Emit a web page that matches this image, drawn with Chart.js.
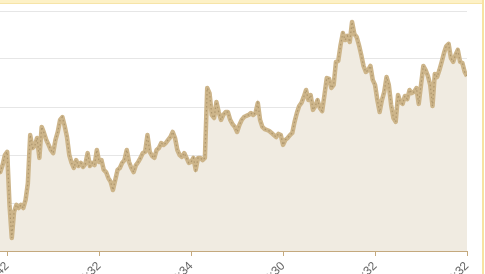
<!DOCTYPE html>
<html>
<head>
<meta charset="utf-8">
<script src="https://cdn.jsdelivr.net/npm/chart.js@4.4.1/dist/chart.umd.min.js"></script>
<style>
  html, body { margin: 0; padding: 0; width: 485px; height: 274px; overflow: hidden; background: #fff; position: relative; }
  #topbar { position: absolute; left: 0; top: 0; width: 483px; height: 3px; background: #fdf1c6; border-bottom: 1px solid #f6e4a8; z-index: 2; }
  #rightbar { position: absolute; left: 482px; top: 0; width: 2px; height: 274px; background: #f7e3a2; z-index: 2; }
  #c { position: absolute; left: -100px; top: 0; }
</style>
</head>
<body>
<div id="topbar"></div>
<div id="rightbar"></div>
<canvas id="c" width="582" height="291"></canvas>
<script>
// Series values (one per sample, left to right)
const values = [
  34.6, 32.9, 35.8, 40.0, 41.3, 19.2, 5.4, 16.3, 19.2, 17.9,
  19.2, 17.9, 21.3, 28.3, 48.3, 42.9, 43.8, 47.1, 38.8, 51.7,
  49.2, 46.3, 44.2, 42.1, 40.8, 46.3, 49.6, 54.6, 55.8, 52.1,
  47.5, 40.0, 36.7, 34.6, 37.9, 35.4, 36.7, 35.0, 36.3, 40.8,
  35.4, 36.7, 35.8, 42.1, 37.1, 37.9, 33.8, 32.9, 30.4, 28.8,
  25.4, 29.6, 33.8, 34.6, 36.7, 37.9, 42.1, 37.1, 34.6, 32.9,
  35.8, 37.1, 38.8, 40.8, 41.3, 48.3, 41.3, 39.6, 38.8, 42.1,
  42.9, 45.0, 44.2, 45.0, 46.3, 47.5, 49.6, 47.1, 42.1, 40.0,
  39.2, 40.8, 38.8, 36.7, 37.1, 38.8, 33.8, 38.8, 38.8, 37.9,
  38.8, 67.9, 65.8, 56.7, 55.4, 62.1, 57.9, 54.6, 56.7, 57.9,
  57.9, 54.6, 52.9, 51.7, 49.6, 52.5, 54.6, 55.8, 56.3, 56.7,
  57.5, 56.7, 57.5, 61.7, 54.6, 51.7, 50.8, 50.4, 50.0, 49.2,
  48.3, 47.5, 48.8, 48.3, 44.2, 46.3, 47.1, 48.3, 49.2, 53.8,
  57.5, 60.4, 61.7, 64.2, 67.1, 62.9, 65.0, 58.8, 60.4, 62.9,
  59.6, 58.3, 65.0, 72.1, 71.7, 67.9, 69.2, 78.8, 79.2, 85.8,
  90.8, 87.9, 89.6, 87.1, 95.4, 90.4, 89.2, 85.8, 81.7, 77.1,
  74.6, 75.4, 77.1, 71.3, 69.2, 62.9, 57.9, 62.9, 66.3, 72.5,
  69.2, 60.8, 55.4, 53.8, 65.0, 62.1, 61.3, 64.6, 63.3, 67.1,
  65.8, 66.3, 67.9, 61.3, 69.2, 77.1, 75.4, 72.9, 69.2, 60.4,
  73.8, 72.5, 75.4, 78.8, 82.5, 85.4, 86.3, 80.4, 78.8, 81.7,
  83.8, 78.8, 78.3, 74.6, 72.9
];
// Sample index of each labelled tick, and its label
const tickIndex = [4, 44, 84, 124, 164, 204];
const tickLabels = ['12:42', '14:32', '16:34', '18:30', '20:32', '22:32'];
// Value axis range
const yMin = 0, yMax = 100, yStep = 20;

const points = values.map((v, i) => ({ x: i, y: v }));

new Chart(document.getElementById('c'), {
  type: 'line',
  data: {
    datasets: [
      {
        data: points,
        borderColor: 'rgb(205,181,138)',
        borderWidth: 4.5,
        borderJoinStyle: 'round',
        backgroundColor: 'rgb(240,235,225)',
        fill: 'origin',
        pointRadius: 0,
        tension: 0,
        order: 2
      },
      {
        data: points,
        borderColor: 'rgba(150,125,85,0.55)',
        borderWidth: 1.2,
        borderDash: [1.5, 2.5],
        fill: false,
        pointRadius: 0,
        tension: 0,
        order: 1
      }
    ]
  },
  options: {
    responsive: false,
    animation: false,
    layout: { padding: { left: 98, right: 15, top: 11, bottom: 0 } },
    plugins: { legend: { display: false }, tooltip: { enabled: false } },
    scales: {
      x: {
        type: 'linear',
        min: 0,
        max: values.length - 1,
        afterBuildTicks: (axis) => { axis.ticks = tickIndex.map(v => ({ value: v })); },
        afterFit: (s) => { s.height = 40; },
        grid: { drawOnChartArea: false, color: '#c4a97e', tickLength: 5 },
        border: { color: '#c4a97e', width: 1 },
        ticks: {
          autoSkip: false,
          minRotation: 45,
          maxRotation: 45,
          padding: 3,
          color: '#666',
          font: { family: 'Liberation Sans, Arial, sans-serif', size: 12 },
          callback: (val) => tickLabels[tickIndex.indexOf(val)]
        }
      },
      y: {
        min: yMin,
        max: yMax,
        afterFit: (s) => { s.width = 0; },
        ticks: { display: false, stepSize: yStep },
        grid: { color: '#e6e6e6', drawTicks: false },
        border: { display: false }
      }
    }
  }
});
</script>
</body>
</html>
